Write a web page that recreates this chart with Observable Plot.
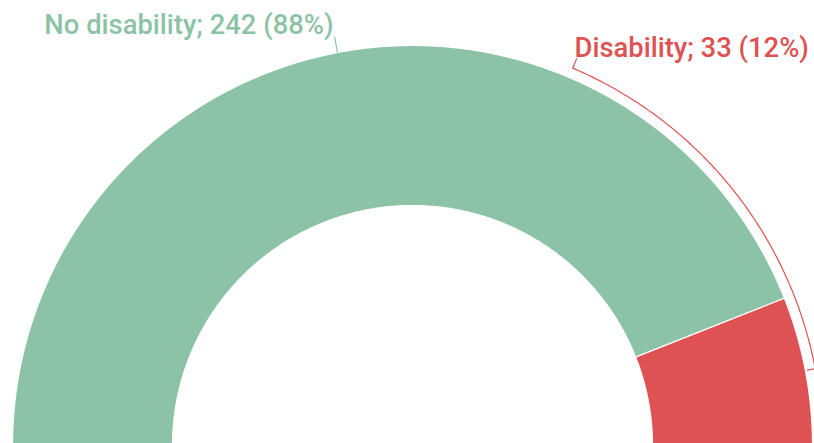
<!DOCTYPE html>
<html><head><meta charset="utf-8">
<script src="https://cdn.jsdelivr.net/npm/d3@7"></script>
<script src="https://cdn.jsdelivr.net/npm/@observablehq/plot@0.6"></script>
<style>html,body{margin:0;padding:0;background:#fff}</style>
</head><body><div id="chart"></div>
<script>
// ---- data ----
const categories = ["No disability", "Disability"];
const counts = [242, 33];
const percents = [88, 12];
const colors = ["#8CC3A6", "#DE5254"];

// ---- geometry (outer radius = 1 unit) ----
const W = 814, H = 443;
const cx = 412, cy = 445, Rpx = 400;      // layout in pixels
const R = 1, r0 = 0.6;
const pie = d3.pie().sort(null).startAngle(-Math.PI / 2).endAngle(Math.PI / 2);
const arcs = pie(counts);
const pt = (a, rad) => [rad * Math.sin(a), rad * Math.cos(a)];

const slices = [];
arcs.forEach((d, i) => {
  const n = Math.max(12, Math.ceil(400 * (d.endAngle - d.startAngle) / Math.PI));
  const ring = [];
  for (let k = 0; k <= n; k++) ring.push(pt(d.startAngle + (d.endAngle - d.startAngle) * k / n, R));
  for (let k = n; k >= 0; k--) ring.push(pt(d.startAngle + (d.endAngle - d.startAngle) * k / n, r0));
  ring.push(ring[0]);
  ring.forEach(([x, y]) => slices.push({cat: categories[i], x, y}));
});

// leader lines
const leaders = [];
const labels = [];
// green: short radial line
{
  const d = arcs[0], m = (d.startAngle + d.endAngle) / 2;
  const a = pt(m, 1.0), b = pt(m, 1.04);
  leaders.push({cat: categories[0], x: a[0], y: a[1]}, {cat: categories[0], x: b[0], y: b[1]});
  labels.push({cat: categories[0], x: b[0], y: b[1], anchor: "end",
    text: `${categories[0]}; ${counts[0]} (${percents[0]}%)`});
}
// red: bracket arc outside the ring
{
  const d = arcs[1], m = (d.startAngle + d.endAngle) / 2;
  const aEnd = (23 / 180) * Math.PI, rb = 1.025;
  const seg = [pt(m, 1.005)];
  const n = 120;
  for (let k = 0; k <= n; k++) seg.push(pt(m + (aEnd - m) * k / n, rb));
  seg.push(pt(aEnd, 1.05));
  seg.forEach(([x, y]) => leaders.push({cat: categories[1], x, y}));
  const e = seg[seg.length - 1];
  labels.push({cat: categories[1], x: e[0], y: e[1], anchor: "start",
    text: `${categories[1]}; ${counts[1]} (${percents[1]}%)`});
}

const chart = Plot.plot({
  width: W, height: H,
  marginTop: 0, marginRight: 0, marginBottom: 0, marginLeft: 0,
  style: {fontFamily: "Roboto, sans-serif", background: "white"},
  x: {domain: [-cx / Rpx, (W - cx) / Rpx], axis: null},
  y: {domain: [(cy - H) / Rpx, cy / Rpx], axis: null},
  color: {domain: categories, range: colors},
  marks: [
    Plot.line(slices, {x: "x", y: "y", z: "cat", fill: "cat", stroke: "white", strokeWidth: 1.2, curve: "linear"}),
    Plot.line(leaders, {x: "x", y: "y", z: "cat", stroke: "cat", strokeWidth: 1.2, curve: "linear"}),
    Plot.text(labels.filter(d => d.anchor === "end"), {x: "x", y: "y", text: "text", fill: "cat", textAnchor: "end", lineAnchor: "bottom", dx: -1, dy: -3, fontSize: 27.4, fontWeight: 500}),
    Plot.text(labels.filter(d => d.anchor === "start"), {x: "x", y: "y", text: "text", fill: "cat", textAnchor: "start", lineAnchor: "bottom", dx: -2, dy: -2, fontSize: 27.4, fontWeight: 500})
  ]
});
document.getElementById("chart").append(chart);
</script>
</body></html>
